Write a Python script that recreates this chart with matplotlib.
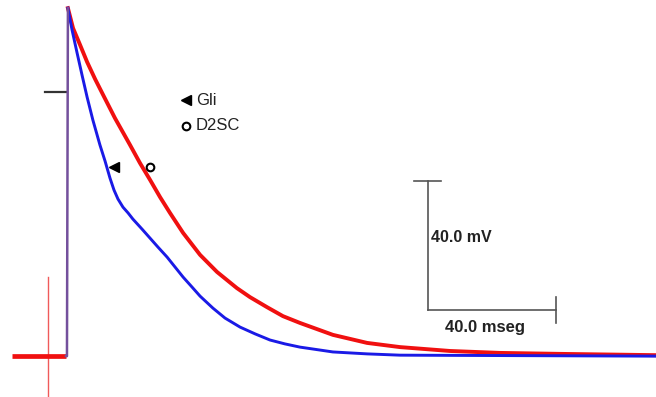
import matplotlib
matplotlib.use("Agg")
import matplotlib.pyplot as plt
import numpy as np

plt.rcParams['font.family'] = ['Liberation Sans', 'DejaVu Sans']

# Action potential traces (time in ms, membrane potential in mV)
d2sc_t = [-16.9, 0.0, 0.3, 0.6, 2.2, 4.4, 6.6, 9.1, 11.6, 15.3, 20.0, 23.1,
          26.3, 29.4, 32.5, 36.6, 41.9, 47.2, 53.4, 57.5, 62.8, 67.8, 73.1,
          83.4, 94.1, 104.4, 120.0, 135.6, 154.4, 184.4]
d2sc_v = [-81.9, -81.9, -81.9, 26.0, 19.8, 14.6, 9.3, 4.0, -0.9, -8.1, -16.4,
          -22.0, -27.3, -32.6, -37.5, -43.7, -50.5, -55.8, -60.8, -63.6, -66.7,
          -69.5, -71.6, -75.3, -77.8, -79.1, -80.3, -80.9, -81.2, -81.6]

gli_t = [-16.9, 0.0, 0.3, 0.6, 1.9, 3.4, 5.0, 6.6, 8.4, 10.6, 12.2, 13.75,
         15.0, 16.25, 17.8, 19.4, 20.9, 23.75, 26.25, 28.75, 31.6, 34.1, 36.6,
         39.4, 41.9, 45.9, 49.7, 54.4, 59.1, 63.75, 68.4, 73.1, 83.4, 94.1,
         104.4, 184.4]
gli_v = [-81.9, -81.9, -81.9, 26.0, 19.2, 12.4, 5.3, -1.6, -8.7, -16.4, -21.4,
         -26.7, -30.4, -33.2, -35.7, -37.5, -39.4, -42.5, -45.3, -48.1, -51.2,
         -54.3, -57.4, -60.5, -63.3, -67.0, -70.1, -72.9, -75.0, -76.9, -78.1,
         -79.1, -80.6, -81.2, -81.6, -81.9]

# stimulus artifact and 0 mV reference
stim_t = -5.6
stim_v = (-57.4, -95.0)
zero_tick_t = (-6.6, 0.0)

# markers placed on the traces
marker_gli = (15.0, -23.3)
marker_d2sc = (26.1, -23.3)

# calibration bars
scale_ms = 40.0
scale_mv = 40.0
scale_origin = (113.1, -67.6)

fig = plt.figure(figsize=(6.56, 3.97), dpi=100)
ax = fig.add_axes([0, 0, 1, 1])
ax.set_xlim(-20.625, 184.375)
ax.set_ylim(-94.57, 28.53)
ax.axis('off')

red = '#f01010'
blue = '#1a1ae6'

# baseline before the stimulus (both traces overlap, red on top)
ax.plot(d2sc_t[:2], d2sc_v[:2], color=red, lw=3.4, solid_capstyle='butt', zorder=3)
# repolarisation
ax.plot(d2sc_t[3:], d2sc_v[3:], color=red, lw=2.8, solid_joinstyle='round', zorder=2)
ax.plot(gli_t[3:], gli_v[3:], color=blue, lw=2.1, solid_joinstyle='round', zorder=3)
# shared upstroke
ax.plot(gli_t[1:4], gli_v[1:4], color='#74509c', lw=1.8, zorder=4)

# stimulus artifact
ax.plot([stim_t, stim_t], stim_v, color='#f05a5a', lw=1.0, zorder=1)
# 0 mV tick
ax.plot(zero_tick_t, [0, 0], color='#333333', lw=1.6, zorder=1)

# markers on curves
ax.plot(*marker_gli, marker='<', color='black', ms=7, ls='none', zorder=5)
ax.plot(*marker_d2sc, marker='o', mfc='white', mec='black', mew=1.5, ms=5.5,
        ls='none', zorder=5)

# legend
ax.plot(37.5, -2.5, marker='<', color='black', ms=7, ls='none')
ax.plot(37.5, -10.5, marker='o', mfc='white', mec='black', mew=1.5, ms=5.5, ls='none')
ax.text(40.6, -2.5, 'Gli', fontsize=12, va='center', ha='left', color='#222222')
ax.text(40.6, -10.5, 'D2SC', fontsize=12, va='center', ha='left', color='#222222')

# calibration bars
x0, y0 = scale_origin
bar_col = '#555555'
ax.plot([x0, x0], [y0, y0 + scale_mv], color=bar_col, lw=1.2)
ax.plot([x0 - 4.35, x0 + 4.1], [y0 + scale_mv, y0 + scale_mv], color=bar_col, lw=1.2)
ax.plot([x0, x0 + scale_ms], [y0, y0], color=bar_col, lw=1.2)
ax.plot([x0 + scale_ms, x0 + scale_ms], [y0 + 4.0, y0 - 4.0], color=bar_col, lw=1.2)
ax.text(x0 + 1.0, y0 + scale_mv * 0.56, f'{scale_mv:.1f} mV', fontsize=11.5,
        fontweight='bold', va='center', ha='left', color='#222222')
ax.text(x0 + 5.3, y0 - 5.3, f'{scale_ms:.1f} mseg', fontsize=12,
        fontweight='bold', va='center', ha='left', color='#222222')

fig.savefig('out.png', dpi=100)
